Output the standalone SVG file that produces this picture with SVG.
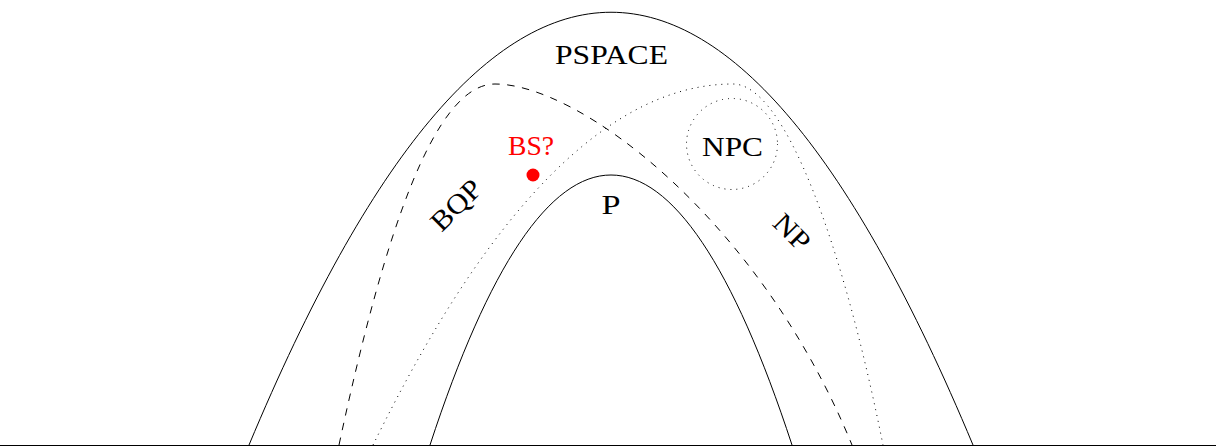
<svg xmlns="http://www.w3.org/2000/svg" width="1216" height="447" viewBox="0 0 1216 447">
<style>
.ln{fill:none;stroke:#000;stroke-width:1}
.dash{stroke-dasharray:7.5 7.5}
.dot{stroke-dasharray:1 5}
.lbl{font-family:"Liberation Serif","DejaVu Serif",serif;font-size:28px;fill:#000;text-anchor:middle}
.red{fill:#ff0000}
</style>
<rect width="1216" height="447" fill="#fff"/>
<g id="connectors">
<path id="baseline" class="ln" d="M0,445.5 H1216"/>
</g>
<g id="PSPACE">
<path class="ln" d="M249,445 C490,-132 732,-132 973,445"/>
<text class="lbl" x="611.5" y="64" textLength="113" lengthAdjust="spacingAndGlyphs">PSPACE</text>
</g>
<g id="P">
<path class="ln" d="M430,445 C548,85 674,85 792,445"/>
<text class="lbl" x="611" y="214" textLength="19" lengthAdjust="spacingAndGlyphs">P</text>
</g>
<g id="BQP">
<path class="ln dash" d="M339,445 C385,230 435,84 495,84 C580,84 760,220 852,445"/>
<text class="lbl" transform="translate(462.7,211.7) rotate(-45)" x="0" y="0" textLength="60" lengthAdjust="spacingAndGlyphs">BQP</text>
</g>
<g id="NP">
<path class="ln dot" d="M373,445 C430,330 560,84 733,84 C785,84 843,245 883,445"/>
<text class="lbl" transform="translate(785.3,238.7) rotate(45)" x="0" y="0" textLength="40" lengthAdjust="spacingAndGlyphs">NP</text>
</g>
<g id="NPC">
<circle class="ln dot" cx="732" cy="144" r="45.5"/>
<text class="lbl" x="732.5" y="156" textLength="61" lengthAdjust="spacingAndGlyphs">NPC</text>
</g>
<g id="BS">
<circle class="red" cx="533" cy="175" r="6.5"/>
<text class="lbl red" x="531" y="155" textLength="46" lengthAdjust="spacingAndGlyphs">BS?</text>
</g>
</svg>
